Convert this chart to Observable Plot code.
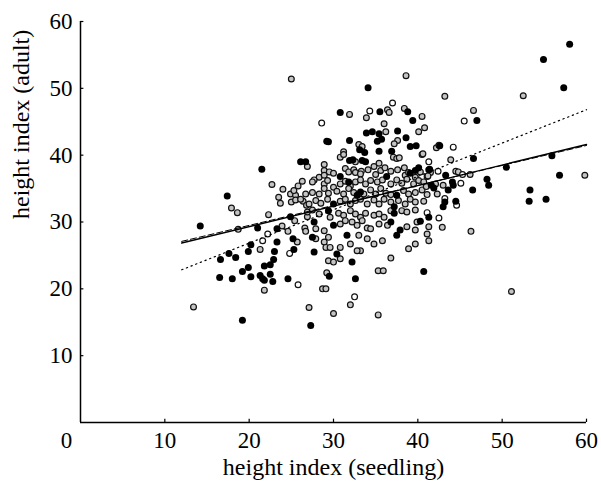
<!DOCTYPE html>
<html><head><meta charset="utf-8">
<script src="https://cdn.jsdelivr.net/npm/d3@7"></script>
<script src="https://cdn.jsdelivr.net/npm/@observablehq/plot@0.6"></script>
<style>body{margin:0;background:#fff}</style>
</head><body><div id="chart"></div>
<script>
// tick labels
const xTicks = [10, 20, 30, 40, 50, 60];
const yTicks = [10, 20, 30, 40, 50, 60];
const originLabel = ["0"];
const xTitle = "height index (seedling)";
const yTitle = "height index (adult)";

// regression lines (seedling index -> adult index)
const lineX = [12, 60];
const solidY = [26.85, 41.6];
const dashedY = [27.1, 41.45];
const dottedY = [22.85, 46.8];

// filled points [seedling, adult]
const filled = [
[21.5,37.9],[17.4,33.9],[14.2,29.4],[21.0,29.1],[23.3,29.0],[24.9,30.8],[20.2,26.6],[23.3,27.0],[19.9,25.6],[17.6,25.3],
[18.4,24.7],[16.6,24.4],[23.0,25.6],[22.9,24.4],[22.5,23.6],[21.8,23.4],[19.9,23.2],[19.2,22.6],[16.5,21.7],[18.0,21.5],
[20.2,21.8],[21.3,22.0],[21.6,21.5],[21.8,21.3],[22.5,22.2],[22.8,21.1],[24.6,21.5],[25.2,27.5],[25.3,25.9],[19.2,15.3],
[26.1,39.0],[27.3,14.5],
[34.1,50.1],[30.8,46.4],[35.5,46.5],[38.8,46.5],[39.4,45.2],[33.9,43.3],[34.6,43.5],[35.4,43.2],[35.7,42.4],[35.2,42.1],
[37.6,43.6],[38.6,42.6],[29.2,42.1],[29.4,42.0],[31.9,42.2],[39.1,41.3],[39.8,41.4],[33.1,40.8],[33.7,40.4],[35.4,40.6],
[36.9,40.6],[32.3,39.3],[31.9,39.2],[33.4,39.2],[33.8,39.0],[26.7,39.0],[40.1,38.1],[39.7,37.7],[39.1,37.3],[41.3,37.8],
[30.8,36.8],[31.8,36.0],[36.3,36.8],
[41.6,35.5],[32.8,34.0],[33.2,34.5],[37.5,34.0],[30.0,32.7],[37.2,32.3],[29.4,31.7],[37.2,31.3],[41.3,30.7],[27.7,30.0],
[30.0,29.5],[36.8,30.0],[37.9,28.8],[27.5,27.7],[31.6,28.0],[37.5,28.0],[27.7,25.5],[30.4,25.2],[32.2,24.0],
[29.5,21.9],[32.6,21.5],[40.7,22.6],
[58.0,56.6],[54.9,54.3],[57.3,50.1],[47.0,45.2],[42.6,41.4],[46.6,39.5],[41.4,37.9],[43.3,37.0],[48.2,36.4],[50.5,38.2],
[55.9,39.9],[56.8,37.0],
[48.4,35.5],[46.5,34.8],[53.3,34.8],[53.2,33.1],[55.2,33.4],[41.9,35.1],[43.6,34.8],[44.1,36.0],[44.2,35.5],[43.2,33.0],
[43.0,32.3],[44.5,33.1],[40.3,30.1]
];

// open points, grey fill
const openGrey = [
[22.7,35.6],[24.0,34.9],[23.5,33.7],[23.7,32.8],[24.9,34.2],[25.5,34.0],[25.0,33.0],[25.5,33.3],[25.8,35.4],[26.3,36.1],
[26.4,33.1],[26.8,32.5],[17.9,32.1],[18.6,31.4],[22.3,31.1],[18.7,28.9],[23.9,29.4],[24.6,28.6],[21.3,25.9],[25.7,27.0],
[25.4,30.2],[26.6,29.1],[26.7,28.6],[26.9,30.8],[21.8,19.8],[13.4,17.3],[27.1,17.2],[26.9,38.3],
[38.6,51.9],[25.0,51.4],[31.9,46.1],[33.9,45.6],[36.4,46.8],[36.6,46.4],[38.4,47.0],[40.5,45.8],[36.0,44.7],[40.1,43.5],
[40.8,44.1],[36.2,43.5],[37.6,42.2],[37.2,41.7],[42.2,41.1],[42.5,41.5],[33.0,41.6],[33.4,41.3],[31.2,40.5],[30.8,39.7],
[31.2,40.1],[37.1,39.7],[37.5,39.5],[37.8,39.6],[40.5,40.1],[32.6,39.0],[28.9,38.6],[35.4,38.8],[31.4,38.0],[31.8,37.5],
[32.4,37.8],[33.3,37.6],[34.1,37.8],[34.8,38.3],[35.6,37.7],[36.1,38.1],[36.8,37.6],[37.6,37.8],[38.4,38.1],[28.9,37.7],
[29.5,37.5],[28.3,36.7],[27.7,36.3],
[28.9,37.0],[30.0,37.3],[32.6,37.4],[33.2,37.2],[35.0,37.1],[38.5,37.0],[38.9,37.4],[39.7,36.7],[41.1,36.8],[41.5,37.4],
[27.5,36.0],[28.9,35.7],[29.3,36.2],[30.0,35.2],[30.8,35.7],[31.4,36.1],[32.0,35.4],[32.6,36.0],[33.2,36.3],[33.8,35.7],
[34.4,36.2],[35.2,36.0],[35.8,36.3],[36.8,35.7],[37.5,36.3],[38.1,35.8],[38.7,36.4],[39.5,35.7],[40.1,36.2],[40.7,36.0],
[42.1,35.7],
[25.3,34.7],[26.7,34.2],[27.5,34.4],[28.3,34.2],[28.9,35.0],[29.4,34.3],[30.4,34.6],[31.2,34.2],[31.8,35.0],[32.4,34.4],
[33.6,34.2],[34.4,34.8],[35.0,34.2],[35.6,35.0],[36.2,34.3],[36.8,34.1],[38.3,34.7],[38.9,34.2],[39.7,34.4],[40.5,34.8],
[41.1,34.1],[42.3,34.2],
[26.1,33.4],[27.1,32.7],[27.9,33.2],[28.5,32.8],[29.3,33.4],[30.8,33.1],[31.4,33.4],[32.0,32.7],[32.6,33.2],[33.2,33.4],
[34.0,32.7],[34.8,33.3],[35.4,32.7],[36.0,33.4],[36.8,33.0],[37.7,33.2],[38.5,32.7],[39.1,33.4],[39.7,33.0],[40.7,33.1],
[26.9,31.5],[27.5,31.8],[28.3,31.2],[29.6,30.7],[30.6,31.3],[31.2,31.0],[32.0,31.7],[32.6,31.2],[33.2,30.7],[33.8,31.3],
[34.8,31.0],[35.4,31.2],[36.0,30.7],[36.8,31.7],[38.1,31.7],[38.7,31.5],[39.7,31.8],
[27.9,29.0],[28.9,28.7],[30.8,29.7],[31.4,30.2],[32.2,30.0],[32.8,29.5],[33.4,30.2],[34.0,29.1],[34.4,29.0],[35.4,29.7],
[36.4,29.5],[38.7,29.3],[39.7,28.8],[39.9,30.0],[41.3,29.3],
[27.9,27.5],[28.9,27.0],[29.4,27.7],[29.1,26.2],[29.6,26.2],[30.8,26.2],[32.0,26.7],[33.0,28.0],[33.2,25.7],[34.0,27.5],
[34.8,26.7],[35.8,27.2],[38.9,26.0],[39.7,26.7],[41.1,28.2],[41.3,27.2],
[29.4,24.2],[30.0,24.0],[30.8,24.5],[32.8,25.7],[36.8,24.6],
[29.2,22.4],[35.3,22.7],[35.9,22.7],[28.7,20.0],[29.1,20.0],[32.0,17.6],[30.0,16.3],[35.3,16.1],
[43.2,48.8],[46.6,46.7],[52.5,48.9],[40.6,40.2],[43.9,39.3],[44.5,37.6],[44.8,37.5],[46.2,37.1],[59.8,37.0],[41.2,36.9],
[40.3,37.5],[41.0,35.3],[43.0,35.5],[42.9,29.2],[46.3,28.6],[51.1,19.6]
];

// open points, white fill
const openWhite = [
[21.6,27.2],[22.2,28.2],[24.8,25.3],[25.8,20.6],[37.0,47.8],[34.3,46.6],[28.6,44.8],[45.5,45.1],[44.2,41.2],[41.3,39.0],
[42.4,37.6],[45.3,37.1],[45.1,35.8],[43.2,33.5],[44.6,32.5],[41.1,31.4],[42.5,30.6],[32.5,18.8]
];

const lineRows = (ys, kind) => lineX.map((x, i) => ({x, y: ys[i], kind}));
const serif = "'Liberation Serif', 'Times New Roman', serif";

const chart = Plot.plot({
  width: 601, height: 481,
  marginLeft: 80, marginRight: 15, marginTop: 21, marginBottom: 59,
  x: {domain: [0, 60]},
  y: {domain: [0, 60]},
  style: {fontFamily: serif, background: "#fff", color: "#000", overflow: "visible"},
  marks: [
    Plot.dot(openGrey, {x: d => d[0], y: d => d[1], r: 2.9, fill: "#c4c4c4", stroke: "#111", strokeWidth: 1.2}),
    Plot.dot(openWhite, {x: d => d[0], y: d => d[1], r: 2.9, fill: "#fff", stroke: "#111", strokeWidth: 1.2}),
    Plot.dot(filled, {x: d => d[0], y: d => d[1], r: 3.5, fill: "#000"}),
    Plot.line(lineRows(dottedY, "dotted"), {x: "x", y: "y", stroke: "#000", strokeWidth: 1.2, strokeDasharray: "1.3,3.7"}),
    Plot.line(lineRows(dashedY, "dashed"), {x: "x", y: "y", stroke: "#000", strokeWidth: 1, strokeDasharray: "6,3"}),
    Plot.line(lineRows(solidY, "solid"), {x: "x", y: "y", stroke: "#000", strokeWidth: 1.4}),
    Plot.ruleY([0], {x1: 0, x2: 60, stroke: "#000", strokeWidth: 1.5}),
    Plot.ruleX([0], {y1: 0, y2: 60, stroke: "#000", strokeWidth: 1.5}),
    Plot.ruleX(xTicks, {x: d => d, y1: 0, y2: 0.5, stroke: "#000", strokeWidth: 1.2}),
    Plot.ruleY(yTicks, {y: d => d, x1: 0, x2: 0.4, stroke: "#000", strokeWidth: 1.2}),
    Plot.axisX({ticks: xTicks, tickSize: 0, tickPadding: 9.5, fontSize: 23, label: null, fill: "#000"}),
    Plot.axisY({ticks: yTicks, tickSize: 0, tickPadding: 8, fontSize: 23, label: null, fill: "#000"}),
    Plot.text(originLabel, {x: 0, y: 0, text: d => d, dx: -14, dy: 9.5, lineAnchor: "top", fontSize: 23, fill: "#000"}),
    Plot.text([xTitle], {frameAnchor: "bottom", text: d => d, dy: 35.5, lineAnchor: "top", fontSize: 24, fill: "#000"}),
    Plot.text([yTitle], {frameAnchor: "left", text: d => d, dx: -59, dy: -3, rotate: -90, lineAnchor: "middle", fontSize: 24, fill: "#000"})
  ]
});
document.getElementById("chart").appendChild(chart);
</script>
</body></html>
